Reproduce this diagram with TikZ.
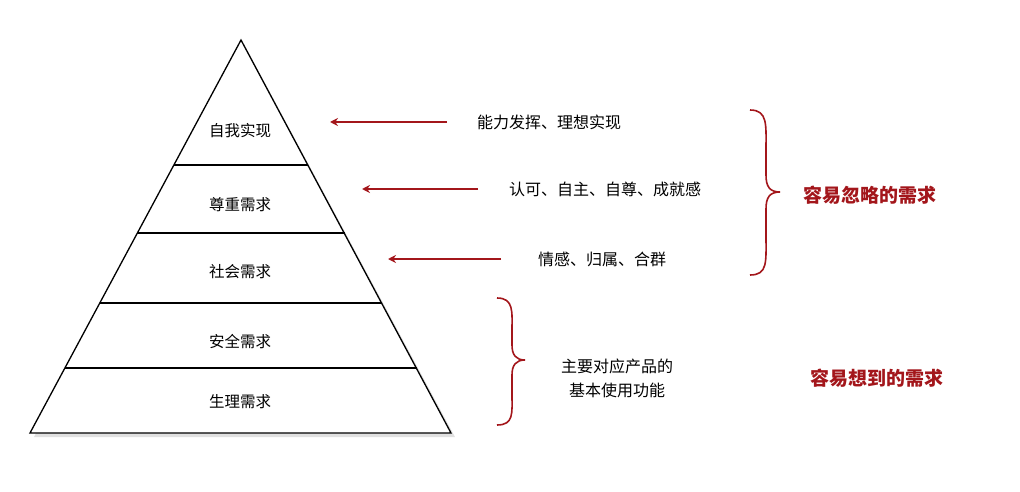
\documentclass[tikz,border=0pt]{standalone}
\usepackage{fontspec}
\setmainfont{Noto Sans CJK SC}
\usetikzlibrary{arrows.meta}
\definecolor{dred}{HTML}{A3161B}
\begin{document}
\begin{tikzpicture}[x=1pt,y=-1pt,
  lvl/.style={font=\fontsize{15.5}{18}\selectfont},
  note/.style={font=\fontsize{16}{24}\selectfont, align=center},
  big/.style={font=\bfseries\fontsize{19}{22}\selectfont, text=dred},
  arr/.style={draw=dred, line width=1.6pt, -{Stealth[length=8pt,width=8pt]}},
  br/.style={draw=dred, line width=1.6pt}]
\useasboundingbox (0,0) rectangle (1020,492);
\fill[black!12] (244,44) -- (455,437) -- (34,437) -- cycle;
\draw[line width=1.3pt, fill=white] (241,40) coordinate (apex) -- (451,433) -- (30,433) -- cycle;
\foreach \y in {165,233,303,368}{
  \pgfmathsetmacro\dx{0.5369*(\y-40)}
  \draw[line width=1.3pt] ({241-\dx},\y) -- ({241+\dx},\y);
}
\node[lvl] (l1) at (240,131) {自我实现};
\node[lvl] (l2) at (240,205) {尊重需求};
\node[lvl] (l3) at (240,272) {社会需求};
\node[lvl] (l4) at (240,342) {安全需求};
\node[lvl] (l5) at (240,402) {生理需求};
\node[note] (t1) at (549,122) {能力发挥、理想实现};
\node[note] (t2) at (605,189) {认可、自主、自尊、成就感};
\node[note] (t3) at (602,259) {情感、归属、合群};
\coordinate (e1) at (330,122);
\coordinate (e2) at (362,189);
\coordinate (e3) at (388,259);
\coordinate (s1) at (447,122);
\coordinate (s2) at (478,189);
\coordinate (s3) at (501,259);
\draw[arr] (s1) -- (e1);
\draw[arr] (s2) -- (e2);
\draw[arr] (s3) -- (e3);
\draw[br] (750,110) .. controls (768,110) and (766,125) .. (766,150) -- (766,175) .. controls (766,187) and (770,192) .. (780,192) .. controls (770,192) and (766,197) .. (766,209) -- (766,235) .. controls (766,262) and (768,275) .. (750,275);
\draw[br] (497,298) .. controls (514,298) and (512,312) .. (512,330) -- (512,345) .. controls (512,355) and (516,360) .. (525,360) .. controls (516,360) and (512,365) .. (512,375) -- (512,395) .. controls (512,413) and (514,425) .. (497,425);
\node[big] (g1) at (870,195) {容易忽略的需求};
\node[note] (t4) at (617,378) {主要对应产品的\\基本使用功能};
\node[big] (g2) at (877,378) {容易想到的需求};
\end{tikzpicture}
\end{document}
